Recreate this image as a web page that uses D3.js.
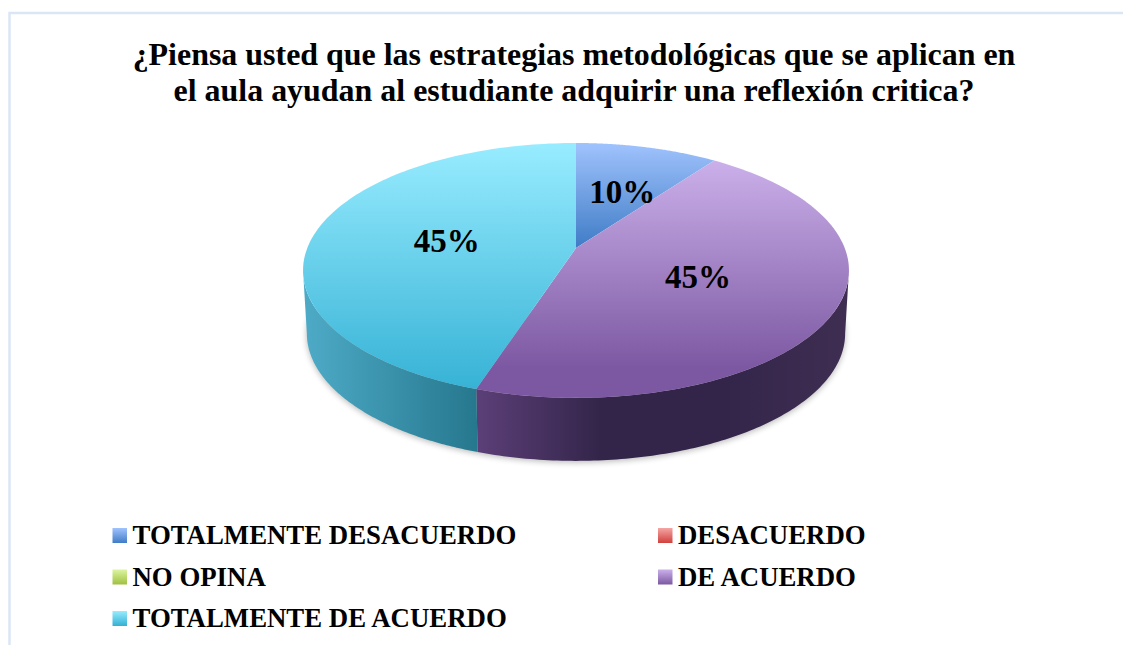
<!DOCTYPE html>
<html><head><meta charset="utf-8">
<script src="https://cdn.jsdelivr.net/npm/d3@7/dist/d3.min.js"></script>
<style>html,body{margin:0;padding:0;background:#fff}svg{display:block}text{font-family:"Liberation Serif",serif;font-weight:bold;fill:#000}</style>
</head><body><svg id="c" width="1123" height="645"></svg>
<script>
const titleLines = ["¿Piensa usted que las estrategias metodológicas que se aplican en","el aula ayudan al estudiante adquirir una reflexión critica?"];
const categories = ["TOTALMENTE DESACUERDO","DESACUERDO","NO OPINA","DE ACUERDO","TOTALMENTE DE ACUERDO"];
const values = [10,0,0,45,45];
const topLight = ["#a0c3fd","#f4a6a4","#dcf5a0","#cbb0ea","#98ecff"];
const topDark  = ["#3f7cc6","#d2403c","#9fc040","#7c58a2","#33b0d4"];
const sideStops = [null,null,null,["#5c3f78","#33254a","#33254a","#3f2e52"],["#4daac6","#26788e"]];

const svg = d3.select("#c");
const defs = svg.append("defs");

// frame
svg.append("path").attr("d","M9.5 645V13H1123").attr("fill","none").attr("stroke","#dbe6f5").attr("stroke-width",2.5);

// title
svg.selectAll("text.t").data(titleLines).join("text").attr("class","t")
  .attr("x",574).attr("y",(d,i)=>65+i*36).attr("text-anchor","middle").attr("font-size",31.95).text(d=>d);

// perspective pie geometry
const cx=576, cy=248, a=268.7, b=123.5, k=0.176, depth=63, baseScale=0.986;
const proj=(t,r=1)=>{const w=1+k*r*Math.cos(t);return [a*r*Math.sin(t)/w, -b*r*Math.cos(t)/w];};
const topPt=(t,r=1)=>{const p=proj(t,r);return [cx+p[0],cy+p[1]];};
const botPt=t=>{const p=proj(t,1);return [cx+p[0]*baseScale,cy+p[1]+depth];};
const pathLine=d3.line();
const arcs=d3.pie().value(d=>d).sort(null)(values);
const arcPts=(fn,s,e)=>d3.range(0,121).map(i=>fn(s+(e-s)*i/120));

// gradients
const grad=(id,x1,y1,x2,y2,cols)=>{const g=defs.append("linearGradient").attr("id",id).attr("gradientUnits","userSpaceOnUse")
  .attr("x1",x1).attr("y1",y1).attr("x2",x2).attr("y2",y2);
  cols.forEach((c,i)=>g.append("stop").attr("offset",i/(cols.length-1)).attr("stop-color",c));};
const yTop=cy-105,yBottom=cy+150;
arcs.forEach((d,i)=>{
  if(i===0) grad("g0",0,yTop,0,cy,[topLight[i],topDark[i]]);
  else grad("g"+i,0,i===3?cy-88:yTop,0,i===3?yBottom-30:yBottom,[topLight[i],topDark[i]]);
});
grad("s3",476,0,849,0,sideStops[3]);
grad("s4",306,0,476,0,sideStops[4]);
defs.append("filter").attr("id","blur").attr("x","-10%").attr("y","-10%").attr("width","120%").attr("height","120%")
  .append("feGaussianBlur").attr("stdDeviation",3);

// soft shadow
svg.append("path").attr("filter","url(#blur)").attr("fill","#000").attr("opacity",.28)
  .attr("d",pathLine(arcPts(t=>{const p=botPt(t);return [p[0],p[1]+1.5];},Math.PI/2,3*Math.PI/2))+"Z");

// side walls: from silhouette tangent to silhouette tangent
const tangent=Math.PI/2+Math.asin(k);
arcs.forEach((d,i)=>{
  if(d.value===0) return;
  const s=Math.max(d.startAngle,tangent), e=Math.min(d.endAngle,2*Math.PI-tangent);
  if(e<=s) return;
  const pts=arcPts(topPt,s,e).concat(arcPts(botPt,s,e).reverse());
  svg.append("path").attr("d",pathLine(pts)+"Z").attr("fill",`url(#s${i})`);
});

// top faces
arcs.forEach((d,i)=>{
  if(d.value===0) return;
  const pts=[[cx,cy]].concat(arcPts(topPt,d.startAngle,d.endAngle));
  svg.append("path").attr("d",pathLine(pts)+"Z").attr("fill",`url(#g${i})`);
});

// data labels
const labelFrac=[0.58,0.5,0.5,0.5,0.49], labelR=[0.525,0.5,0.5,0.49,0.49];
arcs.forEach((d,i)=>{
  if(d.value===0) return;
  const p=topPt(d.startAngle+(d.endAngle-d.startAngle)*labelFrac[i],labelR[i]);
  svg.append("text").attr("x",p[0]).attr("y",p[1]).attr("dy","0.34em").attr("text-anchor","middle")
    .attr("font-size",33).text(d.value+"%");
});

// legend
const col=d3.scaleOrdinal().domain([0,1]).range([112.5,658]);
const row=d3.scalePoint().domain([0,1,2]).range([535,618]);
categories.forEach((c,i)=>{
  const x=col(i%2), y=row(Math.floor(i/2));
  grad("l"+i,0,y-7,0,y+8,[topLight[i],topDark[i]]);
  svg.append("rect").attr("x",x).attr("y",y-7).attr("width",14.5).attr("height",15).attr("fill",`url(#l${i})`);
  svg.append("text").attr("x",x+20).attr("y",y+9).attr("font-size",26.8).text(c);
});
</script></body></html>
